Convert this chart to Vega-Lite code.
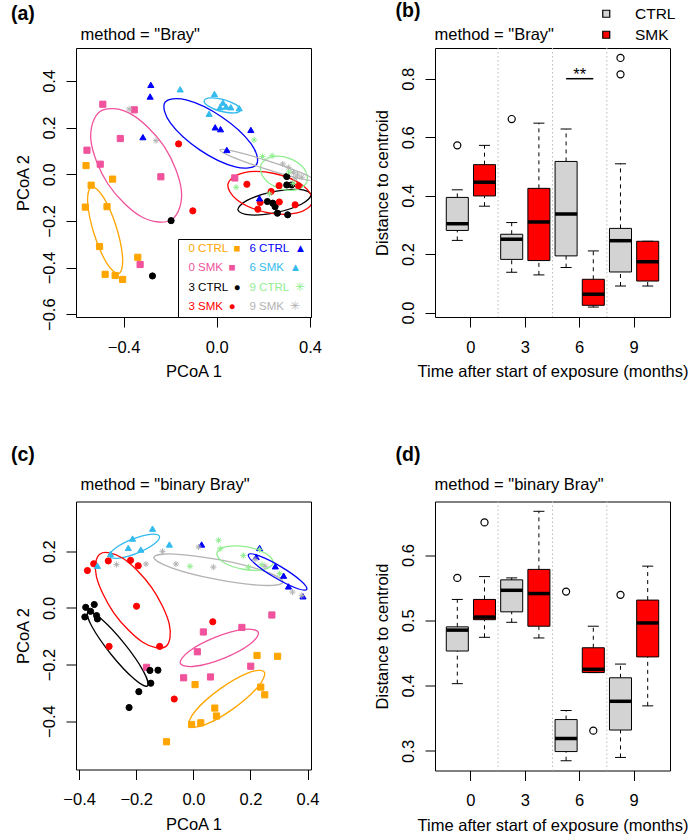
{
  "$schema": "https://vega.github.io/schema/vega-lite/v6.json",
  "background": "white",
  "padding": {"left": 10, "top": 0, "right": 0, "bottom": 3},
  "columns": 2,
  "spacing": {"row": 184.5, "column": 124},
  "bounds": "flush",
  "resolve": {
    "scale": {"color": "independent", "fill": "independent", "stroke": "independent", "shape": "independent"},
    "legend": {"color": "independent", "fill": "independent", "stroke": "independent", "shape": "independent"}
  },
  "datasets": {
    "ptsA": [
      {"g": "0 CTRL", "x": -0.561, "y": 0.037}, {"g": "0 CTRL", "x": -0.447, "y": -0.021}, {"g": "0 CTRL", "x": -0.539, "y": -0.047}, {"g": "0 CTRL", "x": -0.564, "y": -0.141}, {"g": "0 CTRL", "x": -0.471, "y": -0.139}, {"g": "0 CTRL", "x": -0.503, "y": -0.31}, {"g": "0 CTRL", "x": -0.339, "y": -0.356}, {"g": "0 CTRL", "x": -0.479, "y": -0.429}, {"g": "0 CTRL", "x": -0.436, "y": -0.434}, {"g": "0 CTRL", "x": -0.404, "y": -0.451},
      {"g": "0 SMK", "x": -0.489, "y": 0.3}, {"g": "0 SMK", "x": -0.354, "y": 0.276}, {"g": "0 SMK", "x": -0.414, "y": 0.153}, {"g": "0 SMK", "x": -0.557, "y": 0.103}, {"g": "0 SMK", "x": -0.5, "y": 0.043}, {"g": "0 SMK", "x": -0.24, "y": -0.011}, {"g": "0 SMK", "x": 0.077, "y": -0.016}, {"g": "0 SMK", "x": -0.329, "y": -0.387}, {"g": "0 SMK", "x": -0.147, "y": -0.36},
      {"g": "3 CTRL", "x": -0.196, "y": -0.199}, {"g": "3 CTRL", "x": -0.276, "y": -0.436}, {"g": "3 CTRL", "x": 0.217, "y": -0.117}, {"g": "3 CTRL", "x": 0.24, "y": -0.124}, {"g": "3 CTRL", "x": 0.25, "y": -0.139}, {"g": "3 CTRL", "x": 0.26, "y": -0.167}, {"g": "3 CTRL", "x": 0.304, "y": -0.174}, {"g": "3 CTRL", "x": 0.3, "y": -0.046}, {"g": "3 CTRL", "x": 0.3, "y": -0.01}, {"g": "3 CTRL", "x": 0.321, "y": -0.046},
      {"g": "3 SMK", "x": -0.164, "y": 0.13}, {"g": "3 SMK", "x": -0.103, "y": -0.157}, {"g": "3 SMK", "x": 0.129, "y": -0.043}, {"g": "3 SMK", "x": 0.267, "y": -0.049}, {"g": "3 SMK", "x": 0.35, "y": -0.049}, {"g": "3 SMK", "x": 0.186, "y": -0.121}, {"g": "3 SMK", "x": 0.176, "y": -0.15}, {"g": "3 SMK", "x": 0.336, "y": -0.131}, {"g": "3 SMK", "x": 0.268, "y": -0.119}, {"g": "3 SMK", "x": 0.233, "y": -0.074},
      {"g": "6 CTRL", "x": -0.283, "y": 0.383}, {"g": "6 CTRL", "x": -0.286, "y": 0.333}, {"g": "6 CTRL", "x": -0.317, "y": 0.159}, {"g": "6 CTRL", "x": -0.007, "y": 0.201}, {"g": "6 CTRL", "x": 0.016, "y": 0.193}, {"g": "6 CTRL", "x": 0.146, "y": 0.19}, {"g": "6 CTRL", "x": 0.043, "y": 0.104}, {"g": "6 CTRL", "x": 0.183, "y": -0.103},
      {"g": "6 SMK", "x": -0.157, "y": 0.364}, {"g": "6 SMK", "x": -0.01, "y": 0.344}, {"g": "6 SMK", "x": 0.026, "y": 0.307}, {"g": "6 SMK", "x": 0.014, "y": 0.287}, {"g": "6 SMK", "x": 0.04, "y": 0.29}, {"g": "6 SMK", "x": 0.06, "y": 0.287}, {"g": "6 SMK", "x": 0.096, "y": 0.283}, {"g": "6 SMK", "x": -0.033, "y": 0.259},
      {"g": "9 CTRL", "x": 0.16, "y": 0.147}, {"g": "9 CTRL", "x": 0.196, "y": 0.076}, {"g": "9 CTRL", "x": 0.237, "y": 0.079}, {"g": "9 CTRL", "x": 0.083, "y": -0.056}, {"g": "9 CTRL", "x": 0.226, "y": -0.084}, {"g": "9 CTRL", "x": 0.328, "y": -0.039}, {"g": "9 CTRL", "x": 0.31, "y": 0.01},
      {"g": "9 SMK", "x": -0.376, "y": 0.279}, {"g": "9 SMK", "x": -0.261, "y": 0.144}, {"g": "9 SMK", "x": 0.283, "y": 0.044}, {"g": "9 SMK", "x": 0.307, "y": 0.029}, {"g": "9 SMK", "x": 0.329, "y": 0.007}, {"g": "9 SMK", "x": 0.346, "y": -0.003}, {"g": "9 SMK", "x": 0.364, "y": -0.013}, {"g": "9 SMK", "x": 0.336, "y": -0.017}
    ],
    "ellA": [
      {"g": "0 CTRL", "i": 0, "x": -0.4207, "y": -0.426}, {"g": "0 CTRL", "i": 1, "x": -0.404, "y": -0.361}, {"g": "0 CTRL", "i": 2, "x": -0.4313, "y": -0.225}, {"g": "0 CTRL", "i": 3, "x": -0.4865, "y": -0.098}, {"g": "0 CTRL", "i": 4, "x": -0.5373, "y": -0.054}, {"g": "0 CTRL", "i": 5, "x": -0.554, "y": -0.119}, {"g": "0 CTRL", "i": 6, "x": -0.5267, "y": -0.255}, {"g": "0 CTRL", "i": 7, "x": -0.4715, "y": -0.382},
      {"g": "0 SMK", "i": 0, "x": -0.1925, "y": -0.1938}, {"g": "0 SMK", "i": 1, "x": -0.152, "y": -0.0693}, {"g": "0 SMK", "i": 2, "x": -0.2251, "y": 0.118}, {"g": "0 SMK", "i": 3, "x": -0.3691, "y": 0.2585}, {"g": "0 SMK", "i": 4, "x": -0.4995, "y": 0.2698}, {"g": "0 SMK", "i": 5, "x": -0.54, "y": 0.1453}, {"g": "0 SMK", "i": 6, "x": -0.4669, "y": -0.042}, {"g": "0 SMK", "i": 7, "x": -0.3229, "y": -0.1825},
      {"g": "3 CTRL", "i": 0, "x": 0.4035, "y": -0.0867}, {"g": "3 CTRL", "i": 1, "x": 0.351, "y": -0.0653}, {"g": "3 CTRL", "i": 2, "x": 0.2376, "y": -0.076}, {"g": "3 CTRL", "i": 3, "x": 0.1297, "y": -0.1124}, {"g": "3 CTRL", "i": 4, "x": 0.0905, "y": -0.1533}, {"g": "3 CTRL", "i": 5, "x": 0.143, "y": -0.1747}, {"g": "3 CTRL", "i": 6, "x": 0.2564, "y": -0.164}, {"g": "3 CTRL", "i": 7, "x": 0.3643, "y": -0.1276},
      {"g": "3 SMK", "i": 0, "x": 0.4099, "y": -0.1185}, {"g": "3 SMK", "i": 1, "x": 0.3694, "y": -0.0485}, {"g": "3 SMK", "i": 2, "x": 0.2467, "y": 0.0031}, {"g": "3 SMK", "i": 3, "x": 0.1136, "y": 0.006}, {"g": "3 SMK", "i": 4, "x": 0.0481, "y": -0.0415}, {"g": "3 SMK", "i": 5, "x": 0.0886, "y": -0.1115}, {"g": "3 SMK", "i": 6, "x": 0.2113, "y": -0.1631}, {"g": "3 SMK", "i": 7, "x": 0.3444, "y": -0.166},
      {"g": "6 CTRL", "i": 0, "x": 0.1705, "y": 0.0425}, {"g": "6 CTRL", "i": 1, "x": 0.1465, "y": 0.1312}, {"g": "6 CTRL", "i": 2, "x": 0.0215, "y": 0.2455}, {"g": "6 CTRL", "i": 3, "x": -0.1314, "y": 0.3185}, {"g": "6 CTRL", "i": 4, "x": -0.2225, "y": 0.3075}, {"g": "6 CTRL", "i": 5, "x": -0.1985, "y": 0.2188}, {"g": "6 CTRL", "i": 6, "x": -0.0735, "y": 0.1045}, {"g": "6 CTRL", "i": 7, "x": 0.0794, "y": 0.0315},
      {"g": "6 SMK", "i": 0, "x": 0.1003, "y": 0.2743}, {"g": "6 SMK", "i": 1, "x": 0.0824, "y": 0.2981}, {"g": "6 SMK", "i": 2, "x": 0.0297, "y": 0.3201}, {"g": "6 SMK", "i": 3, "x": -0.0269, "y": 0.3274}, {"g": "6 SMK", "i": 4, "x": -0.0543, "y": 0.3157}, {"g": "6 SMK", "i": 5, "x": -0.0364, "y": 0.2919}, {"g": "6 SMK", "i": 6, "x": 0.0163, "y": 0.2699}, {"g": "6 SMK", "i": 7, "x": 0.0729, "y": 0.2626},
      {"g": "9 CTRL", "i": 0, "x": 0.3867, "y": -0.0319}, {"g": "9 CTRL", "i": 1, "x": 0.3743, "y": 0.0238}, {"g": "9 CTRL", "i": 2, "x": 0.3113, "y": 0.0679}, {"g": "9 CTRL", "i": 3, "x": 0.2347, "y": 0.0746}, {"g": "9 CTRL", "i": 4, "x": 0.1893, "y": 0.0399}, {"g": "9 CTRL", "i": 5, "x": 0.2017, "y": -0.0158}, {"g": "9 CTRL", "i": 6, "x": 0.2647, "y": -0.0599}, {"g": "9 CTRL", "i": 7, "x": 0.3413, "y": -0.0666},
      {"g": "9 SMK", "i": 0, "x": 0.4151, "y": -0.0241}, {"g": "9 SMK", "i": 1, "x": 0.3601, "y": 0.0068}, {"g": "9 SMK", "i": 2, "x": 0.2195, "y": 0.0572}, {"g": "9 SMK", "i": 3, "x": 0.0757, "y": 0.0975}, {"g": "9 SMK", "i": 4, "x": 0.0129, "y": 0.1041}, {"g": "9 SMK", "i": 5, "x": 0.0679, "y": 0.0732}, {"g": "9 SMK", "i": 6, "x": 0.2085, "y": 0.0229}, {"g": "9 SMK", "i": 7, "x": 0.3523, "y": -0.0175}
    ],
    "ptsC": [
      {"g": "0 CTRL", "x": 0.223, "y": -0.168}, {"g": "0 CTRL", "x": 0.295, "y": -0.171}, {"g": "0 CTRL", "x": 0.006, "y": -0.271}, {"g": "0 CTRL", "x": 0.236, "y": -0.28}, {"g": "0 CTRL", "x": 0.25, "y": -0.307}, {"g": "0 CTRL", "x": 0.075, "y": -0.354}, {"g": "0 CTRL", "x": 0.081, "y": -0.382}, {"g": "0 CTRL", "x": -0.006, "y": -0.412}, {"g": "0 CTRL", "x": 0.026, "y": -0.406}, {"g": "0 CTRL", "x": -0.094, "y": -0.473},
      {"g": "0 SMK", "x": 0.275, "y": -0.025}, {"g": "0 SMK", "x": 0.17, "y": -0.069}, {"g": "0 SMK", "x": 0.035, "y": -0.085}, {"g": "0 SMK", "x": 0.014, "y": -0.155}, {"g": "0 SMK", "x": 0.201, "y": -0.206}, {"g": "0 SMK", "x": 0.06, "y": -0.244}, {"g": "0 SMK", "x": -0.034, "y": -0.247}, {"g": "0 SMK", "x": -0.164, "y": -0.21},
      {"g": "3 CTRL", "x": -0.377, "y": 0.002}, {"g": "3 CTRL", "x": -0.347, "y": 0.012}, {"g": "3 CTRL", "x": -0.36, "y": -0.012}, {"g": "3 CTRL", "x": -0.38, "y": -0.032}, {"g": "3 CTRL", "x": -0.339, "y": -0.027}, {"g": "3 CTRL", "x": -0.336, "y": -0.039}, {"g": "3 CTRL", "x": -0.152, "y": -0.221}, {"g": "3 CTRL", "x": -0.124, "y": -0.22}, {"g": "3 CTRL", "x": -0.149, "y": -0.266}, {"g": "3 CTRL", "x": -0.191, "y": -0.296}, {"g": "3 CTRL", "x": -0.225, "y": -0.352},
      {"g": "3 SMK", "x": -0.371, "y": 0.132}, {"g": "3 SMK", "x": -0.349, "y": 0.156}, {"g": "3 SMK", "x": -0.298, "y": 0.166}, {"g": "3 SMK", "x": -0.22, "y": 0.168}, {"g": "3 SMK", "x": -0.193, "y": 0.149}, {"g": "3 SMK", "x": -0.199, "y": 0.006}, {"g": "3 SMK", "x": 0.068, "y": -0.049}, {"g": "3 SMK", "x": -0.295, "y": -0.136}, {"g": "3 SMK", "x": -0.118, "y": -0.136}, {"g": "3 SMK", "x": -0.067, "y": -0.322},
      {"g": "6 CTRL", "x": 0.029, "y": 0.224}, {"g": "6 CTRL", "x": 0.232, "y": 0.212}, {"g": "6 CTRL", "x": 0.287, "y": 0.147}, {"g": "6 CTRL", "x": 0.316, "y": 0.114}, {"g": "6 CTRL", "x": 0.333, "y": 0.076}, {"g": "6 CTRL", "x": 0.384, "y": 0.041}, {"g": "6 CTRL", "x": 0.22, "y": 0.18},
      {"g": "6 SMK", "x": -0.143, "y": 0.28}, {"g": "6 SMK", "x": -0.213, "y": 0.245}, {"g": "6 SMK", "x": -0.228, "y": 0.212}, {"g": "6 SMK", "x": -0.184, "y": 0.206}, {"g": "6 SMK", "x": -0.084, "y": 0.224}, {"g": "6 SMK", "x": -0.29, "y": 0.191}, {"g": "6 SMK", "x": -0.336, "y": 0.149},
      {"g": "9 CTRL", "x": 0.088, "y": 0.239}, {"g": "9 CTRL", "x": 0.094, "y": 0.209}, {"g": "9 CTRL", "x": -0.012, "y": 0.147}, {"g": "9 CTRL", "x": 0.175, "y": 0.185}, {"g": "9 CTRL", "x": 0.193, "y": 0.144}, {"g": "9 CTRL", "x": 0.232, "y": 0.206}, {"g": "9 CTRL", "x": 0.24, "y": 0.153}, {"g": "9 CTRL", "x": 0.302, "y": 0.121},
      {"g": "9 SMK", "x": -0.269, "y": 0.153}, {"g": "9 SMK", "x": -0.166, "y": 0.155}, {"g": "9 SMK", "x": -0.108, "y": 0.2}, {"g": "9 SMK", "x": -0.061, "y": 0.155}, {"g": "9 SMK", "x": 0.018, "y": 0.215}, {"g": "9 SMK", "x": 0.07, "y": 0.144}, {"g": "9 SMK", "x": 0.216, "y": 0.171}, {"g": "9 SMK", "x": 0.251, "y": 0.147}, {"g": "9 SMK", "x": 0.347, "y": 0.056}, {"g": "9 SMK", "x": 0.38, "y": 0.044}
    ],
    "ellC": [
      {"g": "6 SMK", "i": 0, "x": -0.1189, "y": 0.2533}, {"g": "6 SMK", "i": 1, "x": -0.1513, "y": 0.26}, {"g": "6 SMK", "i": 2, "x": -0.2158, "y": 0.2421}, {"g": "6 SMK", "i": 3, "x": -0.2745, "y": 0.2101}, {"g": "6 SMK", "i": 4, "x": -0.2931, "y": 0.1827}, {"g": "6 SMK", "i": 5, "x": -0.2607, "y": 0.176}, {"g": "6 SMK", "i": 6, "x": -0.1963, "y": 0.1939}, {"g": "6 SMK", "i": 7, "x": -0.1375, "y": 0.2259},
      {"g": "3 SMK", "i": 0, "x": -0.0972, "y": -0.1368}, {"g": "3 SMK", "i": 1, "x": -0.0845, "y": -0.0564}, {"g": "3 SMK", "i": 2, "x": -0.1465, "y": 0.0729}, {"g": "3 SMK", "i": 3, "x": -0.2469, "y": 0.1753}, {"g": "3 SMK", "i": 4, "x": -0.3268, "y": 0.1908}, {"g": "3 SMK", "i": 5, "x": -0.3395, "y": 0.1104}, {"g": "3 SMK", "i": 6, "x": -0.2775, "y": -0.0189}, {"g": "3 SMK", "i": 7, "x": -0.1771, "y": -0.1213},
      {"g": "3 CTRL", "i": 0, "x": -0.1608, "y": -0.2756}, {"g": "3 CTRL", "i": 1, "x": -0.1747, "y": -0.2241}, {"g": "3 CTRL", "i": 2, "x": -0.2415, "y": -0.1263}, {"g": "3 CTRL", "i": 3, "x": -0.3221, "y": -0.0394}, {"g": "3 CTRL", "i": 4, "x": -0.3692, "y": -0.0144}, {"g": "3 CTRL", "i": 5, "x": -0.3553, "y": -0.0659}, {"g": "3 CTRL", "i": 6, "x": -0.2885, "y": -0.1637}, {"g": "3 CTRL", "i": 7, "x": -0.2079, "y": -0.2506},
      {"g": "0 SMK", "i": 0, "x": 0.2273, "y": -0.0859}, {"g": "0 SMK", "i": 1, "x": 0.1768, "y": -0.0758}, {"g": "0 SMK", "i": 2, "x": 0.076, "y": -0.1039}, {"g": "0 SMK", "i": 3, "x": -0.016, "y": -0.1537}, {"g": "0 SMK", "i": 4, "x": -0.0453, "y": -0.1961}, {"g": "0 SMK", "i": 5, "x": 0.0052, "y": -0.2062}, {"g": "0 SMK", "i": 6, "x": 0.106, "y": -0.1781}, {"g": "0 SMK", "i": 7, "x": 0.198, "y": -0.1283},
      {"g": "0 CTRL", "i": 0, "x": 0.2481, "y": -0.2257}, {"g": "0 CTRL", "i": 1, "x": 0.1922, "y": -0.2296}, {"g": "0 CTRL", "i": 2, "x": 0.0923, "y": -0.287}, {"g": "0 CTRL", "i": 3, "x": 0.0068, "y": -0.3643}, {"g": "0 CTRL", "i": 4, "x": -0.0141, "y": -0.4163}, {"g": "0 CTRL", "i": 5, "x": 0.0418, "y": -0.4124}, {"g": "0 CTRL", "i": 6, "x": 0.1417, "y": -0.355}, {"g": "0 CTRL", "i": 7, "x": 0.2272, "y": -0.2777},
      {"g": "9 SMK", "i": 0, "x": 0.3139, "y": 0.0911}, {"g": "9 SMK", "i": 1, "x": 0.2525, "y": 0.1283}, {"g": "9 SMK", "i": 2, "x": 0.0947, "y": 0.1694}, {"g": "9 SMK", "i": 3, "x": -0.067, "y": 0.1904}, {"g": "9 SMK", "i": 4, "x": -0.1379, "y": 0.1789}, {"g": "9 SMK", "i": 5, "x": -0.0765, "y": 0.1417}, {"g": "9 SMK", "i": 6, "x": 0.0813, "y": 0.1006}, {"g": "9 SMK", "i": 7, "x": 0.243, "y": 0.0796},
      {"g": "9 CTRL", "i": 0, "x": 0.2795, "y": 0.1586}, {"g": "9 CTRL", "i": 1, "x": 0.2556, "y": 0.1916}, {"g": "9 CTRL", "i": 2, "x": 0.188, "y": 0.2154}, {"g": "9 CTRL", "i": 3, "x": 0.1163, "y": 0.2162}, {"g": "9 CTRL", "i": 4, "x": 0.0825, "y": 0.1934}, {"g": "9 CTRL", "i": 5, "x": 0.1064, "y": 0.1604}, {"g": "9 CTRL", "i": 6, "x": 0.174, "y": 0.1366}, {"g": "9 CTRL", "i": 7, "x": 0.2457, "y": 0.1358},
      {"g": "6 CTRL", "i": 0, "x": 0.397, "y": 0.0657}, {"g": "6 CTRL", "i": 1, "x": 0.3751, "y": 0.097}, {"g": "6 CTRL", "i": 2, "x": 0.3063, "y": 0.1459}, {"g": "6 CTRL", "i": 3, "x": 0.2309, "y": 0.1837}, {"g": "6 CTRL", "i": 4, "x": 0.193, "y": 0.1883}, {"g": "6 CTRL", "i": 5, "x": 0.2149, "y": 0.157}, {"g": "6 CTRL", "i": 6, "x": 0.2837, "y": 0.1081}, {"g": "6 CTRL", "i": 7, "x": 0.3591, "y": 0.0703}
    ],
    "boxB": [
      {"time": 0, "trt": "CTRL", "lo": 0.247, "q1": 0.281, "med": 0.304, "q3": 0.394, "hi": 0.42},
      {"time": 0, "trt": "SMK", "lo": 0.364, "q1": 0.399, "med": 0.446, "q3": 0.506, "hi": 0.572},
      {"time": 3, "trt": "CTRL", "lo": 0.138, "q1": 0.182, "med": 0.251, "q3": 0.268, "hi": 0.308},
      {"time": 3, "trt": "SMK", "lo": 0.129, "q1": 0.178, "med": 0.31, "q3": 0.425, "hi": 0.648},
      {"time": 6, "trt": "CTRL", "lo": 0.154, "q1": 0.194, "med": 0.337, "q3": 0.517, "hi": 0.628},
      {"time": 6, "trt": "SMK", "lo": 0.019, "q1": 0.025, "med": 0.063, "q3": 0.114, "hi": 0.211},
      {"time": 9, "trt": "CTRL", "lo": 0.091, "q1": 0.139, "med": 0.246, "q3": 0.288, "hi": 0.509},
      {"time": 9, "trt": "SMK", "lo": 0.091, "q1": 0.108, "med": 0.174, "q3": 0.244, "hi": 0.244}
    ],
    "outB": [
      {"time": 0, "trt": "CTRL", "v": 0.572},
      {"time": 3, "trt": "CTRL", "v": 0.662},
      {"time": 9, "trt": "CTRL", "v": 0.871},
      {"time": 9, "trt": "CTRL", "v": 0.815}
    ],
    "sigB": [
      {"time": 6, "trt": "CTRL", "v": 0.8, "label": "**"},
      {"time": 6, "trt": "SMK", "v": 0.8, "label": "**"}
    ],
    "boxD": [
      {"time": 0, "trt": "CTRL", "lo": 0.403, "q1": 0.453, "med": 0.485, "q3": 0.49, "hi": 0.532},
      {"time": 0, "trt": "SMK", "lo": 0.474, "q1": 0.501, "med": 0.505, "q3": 0.532, "hi": 0.567},
      {"time": 3, "trt": "CTRL", "lo": 0.497, "q1": 0.513, "med": 0.546, "q3": 0.562, "hi": 0.565},
      {"time": 3, "trt": "SMK", "lo": 0.473, "q1": 0.491, "med": 0.541, "q3": 0.578, "hi": 0.667},
      {"time": 6, "trt": "CTRL", "lo": 0.285, "q1": 0.299, "med": 0.319, "q3": 0.348, "hi": 0.362},
      {"time": 6, "trt": "SMK", "lo": 0.42, "q1": 0.42, "med": 0.425, "q3": 0.458, "hi": 0.491},
      {"time": 9, "trt": "CTRL", "lo": 0.29, "q1": 0.332, "med": 0.376, "q3": 0.412, "hi": 0.433},
      {"time": 9, "trt": "SMK", "lo": 0.369, "q1": 0.444, "med": 0.496, "q3": 0.531, "hi": 0.583}
    ],
    "outD": [
      {"time": 0, "trt": "CTRL", "v": 0.565},
      {"time": 0, "trt": "SMK", "v": 0.65},
      {"time": 6, "trt": "CTRL", "v": 0.544},
      {"time": 6, "trt": "SMK", "v": 0.331},
      {"time": 9, "trt": "CTRL", "v": 0.539}
    ]
  },
  "concat": [
    {
      "width": 235, "height": 269,
      "title": {"text": "(a)", "dx": -4, "offset": 2},
      "resolve": {"axis": {"x": "independent"}},
      "layer": [
        {
          "data": {"name": "ellA"},
          "mark": {"type": "line", "interpolate": "cardinal-closed", "clip": true, "strokeWidth": 1.3},
          "encoding": {
            "x": {"field": "x", "type": "quantitative", "title": "method = \"Bray\"", "scale": {"domain": [-0.604, 0.404], "nice": false, "zero": false}, "axis": {"orient": "top", "labels": false, "ticks": false, "titleAnchor": "start", "titleAlign": "left", "titleX": 4, "titleBaseline": "alphabetic", "titlePadding": 9}},
            "y": {"field": "y", "type": "quantitative", "title": "PCoA 2", "scale": {"domain": [-0.612, 0.541], "nice": false, "zero": false}},
            "color": {"field": "g", "type": "nominal", "scale": {"domain": ["9 SMK", "9 CTRL", "6 SMK", "6 CTRL", "3 SMK", "3 CTRL", "0 SMK", "0 CTRL"], "range": ["#B3B3B3", "#90EE90", "#33BBEE", "#0000FF", "#FF0000", "#000000", "#F0529C", "#FFA500"]}, "legend": null},
            "order": {"field": "i", "type": "quantitative"}
          }
        },
        {
          "data": {"name": "ptsA"},
          "mark": {"type": "point", "filled": true, "opacity": 1, "strokeWidth": 1, "size": 38},
          "encoding": {
            "x": {"field": "x", "type": "quantitative", "title": "PCoA 1", "axis": {"orient": "bottom", "values": [-0.4, 0, 0.4], "format": ".1f"}},
            "y": {"field": "y", "type": "quantitative", "title": "PCoA 2", "axis": {"values": [-0.6, -0.4, -0.2, 0, 0.2, 0.4], "format": ".1f"}},
            "fill": {"field": "g", "type": "nominal", "scale": {"domain": ["0 CTRL", "0 SMK", "3 CTRL", "3 SMK", "6 CTRL", "6 SMK", "9 CTRL", "9 SMK"], "range": ["#FFA500", "#F0529C", "#000000", "#FF0000", "#0000FF", "#33BBEE", "#90EE90", "#B3B3B3"]},
              "legend": {"title": null, "orient": "bottom-right", "offset": 0, "columns": 2, "strokeColor": "black", "fillColor": "white", "padding": 4, "cornerRadius": 0, "labelFontSize": 11.5, "rowPadding": 6.5, "columnPadding": 2, "symbolSize": 0, "symbolOpacity": 0, "symbolStrokeWidth": 0, "labelOffset": -5,
                "labelExpr": "datum.label + '\u2002' + (datum.label[0] == '0' ? '■' : datum.label[0] == '3' ? '●' : datum.label[0] == '6' ? '▲' : '✳')",
                "labelColor": {"expr": "datum.value == '0 CTRL' ? '#FFA500' : datum.value == '6 CTRL' ? '#0000FF' : datum.value == '0 SMK' ? '#F0529C' : datum.value == '6 SMK' ? '#33BBEE' : datum.value == '9 CTRL' ? '#90EE90' : datum.value == '3 SMK' ? '#FF0000' : datum.value == '9 SMK' ? '#B3B3B3' : '#000000'"}}},
            "stroke": {"field": "g", "type": "nominal", "scale": {"domain": ["0 CTRL", "0 SMK", "3 CTRL", "3 SMK", "6 CTRL", "6 SMK", "9 CTRL", "9 SMK"], "range": ["#FFA500", "#F0529C", "#000000", "#FF0000", "#0000FF", "#33BBEE", "#90EE90", "#B3B3B3"]}},
            "shape": {"field": "g", "type": "nominal", "scale": {"domain": ["0 CTRL", "0 SMK", "3 CTRL", "3 SMK", "6 CTRL", "6 SMK", "9 CTRL", "9 SMK"], "range": ["square", "square", "circle", "circle", "triangle-up", "triangle-up", "M-1,0L1,0M0,-1L0,1M-0.7,-0.7L0.7,0.7M-0.7,0.7L0.7,-0.7", "M-1,0L1,0M0,-1L0,1M-0.7,-0.7L0.7,0.7M-0.7,0.7L0.7,-0.7"]}}
          }
        }
      ]
    },
    {
      "width": 235, "height": 269,
      "title": {"text": "(b)", "dx": 21.5, "offset": -15},
      "resolve": {"axis": {"x": "independent"}},
      "layer": [
        {
          "data": {"name": "boxB"},
          "transform": [{"filter": "datum.trt == 'CTRL' && datum.time > 0"}],
          "mark": {"type": "rule", "color": "#BBBBBB", "strokeDash": [1.5, 2.5], "strokeWidth": 1},
          "encoding": {
            "x": {"field": "time", "type": "ordinal", "bandPosition": 0, "axis": null}
          }
        },
        {
          "data": {"name": "boxB"},
          "mark": {"type": "rule", "color": "black", "strokeDash": [4, 4], "strokeWidth": 1},
          "encoding": {
            "x": {"field": "time", "type": "ordinal", "axis": null},
            "xOffset": {"field": "trt", "type": "nominal"},
            "y": {"field": "lo", "type": "quantitative", "title": "Distance to centroid"},
            "y2": {"field": "q1"}
          }
        },
        {
          "data": {"name": "boxB"},
          "mark": {"type": "rule", "color": "black", "strokeDash": [4, 4], "strokeWidth": 1},
          "encoding": {
            "x": {"field": "time", "type": "ordinal", "axis": null},
            "xOffset": {"field": "trt", "type": "nominal"},
            "y": {"field": "q3", "type": "quantitative", "title": "Distance to centroid"},
            "y2": {"field": "hi"}
          }
        },
        {
          "data": {"name": "boxB"},
          "mark": {"type": "tick", "color": "black", "size": 11, "thickness": 1, "opacity": 1},
          "encoding": {
            "x": {"field": "time", "type": "ordinal", "axis": null},
            "xOffset": {"field": "trt", "type": "nominal"},
            "y": {"field": "lo", "type": "quantitative", "title": "Distance to centroid"}
          }
        },
        {
          "data": {"name": "boxB"},
          "mark": {"type": "tick", "color": "black", "size": 11, "thickness": 1, "opacity": 1},
          "encoding": {
            "x": {"field": "time", "type": "ordinal", "axis": null},
            "xOffset": {"field": "trt", "type": "nominal"},
            "y": {"field": "hi", "type": "quantitative", "title": "Distance to centroid"}
          }
        },
        {
          "data": {"name": "boxB"},
          "mark": {"type": "bar", "stroke": "black", "strokeWidth": 1},
          "encoding": {
            "x": {"field": "time", "type": "ordinal", "title": "Time after start of exposure (months)", "scale": {"domain": [0, 3, 6, 9], "paddingInner": 0, "paddingOuter": 0.16}, "axis": {"orient": "bottom", "labelAngle": 0}},
            "xOffset": {"field": "trt", "type": "nominal", "scale": {"domain": ["CTRL", "SMK"], "paddingInner": 0.19, "paddingOuter": 0.095}},
            "y": {"field": "q1", "type": "quantitative", "title": "Distance to centroid", "scale": {"domain": [-0.015, 0.905], "nice": false, "zero": false}, "axis": {"values": [0, 0.2, 0.4, 0.6, 0.8], "format": ".1f"}},
            "y2": {"field": "q3"},
            "fill": {"field": "trt", "type": "nominal", "scale": {"domain": ["CTRL", "SMK"], "range": ["#D3D3D3", "#FF0000"]},
              "legend": {"title": null, "orient": "none", "legendX": 163.5, "legendY": -42, "symbolType": "square", "symbolSize": 49, "symbolStrokeColor": "black", "symbolStrokeWidth": 1.2, "labelFontSize": 15.5, "labelOffset": 21, "rowPadding": 4, "padding": 0}}
          }
        },
        {
          "data": {"name": "boxB"},
          "mark": {"type": "tick", "color": "black", "size": 22, "thickness": 3.5, "opacity": 1},
          "encoding": {
            "x": {"field": "time", "type": "ordinal", "title": "method = \"Bray\"", "axis": {"orient": "top", "labels": false, "ticks": false, "titleAnchor": "start", "titleAlign": "left", "titleX": -1, "titleBaseline": "alphabetic", "titlePadding": 9}},
            "xOffset": {"field": "trt", "type": "nominal"},
            "y": {"field": "med", "type": "quantitative", "title": "Distance to centroid"}
          }
        },
        {
          "data": {"name": "outB"},
          "mark": {"type": "point", "shape": "circle", "filled": false, "color": "black", "size": 50, "strokeWidth": 1.2, "opacity": 1},
          "encoding": {
            "x": {"field": "time", "type": "ordinal", "axis": null},
            "xOffset": {"field": "trt", "type": "nominal"},
            "y": {"field": "v", "type": "quantitative", "title": "Distance to centroid"}
          }
        },
        {
          "data": {"name": "sigB"},
          "mark": {"type": "line", "color": "black", "strokeWidth": 1.5},
          "encoding": {
            "x": {"field": "time", "type": "ordinal", "axis": null},
            "xOffset": {"field": "trt", "type": "nominal"},
            "y": {"field": "v", "type": "quantitative", "title": "Distance to centroid"}
          }
        },
        {
          "data": {"name": "sigB"},
          "transform": [{"filter": "datum.trt == 'CTRL'"}],
          "mark": {"type": "text", "fontSize": 16.5, "baseline": "alphabetic", "dy": 1, "color": "black"},
          "encoding": {
            "x": {"field": "time", "type": "ordinal", "axis": null},
            "y": {"field": "v", "type": "quantitative", "title": "Distance to centroid"},
            "text": {"field": "label"}
          }
        }
      ]
    },
    {
      "width": 235, "height": 268,
      "title": {"text": "(c)", "dx": -4, "offset": 11},
      "resolve": {"axis": {"x": "independent"}},
      "layer": [
        {
          "data": {"name": "ellC"},
          "mark": {"type": "line", "interpolate": "cardinal-closed", "clip": true, "strokeWidth": 1.3},
          "encoding": {
            "x": {"field": "x", "type": "quantitative", "title": "method = \"binary Bray\"", "scale": {"domain": [-0.411, 0.412], "nice": false, "zero": false}, "axis": {"orient": "top", "labels": false, "ticks": false, "titleAnchor": "start", "titleAlign": "left", "titleX": 4, "titleBaseline": "alphabetic", "titlePadding": 12}},
            "y": {"field": "y", "type": "quantitative", "title": "PCoA 2", "scale": {"domain": [-0.571, 0.376], "nice": false, "zero": false}},
            "color": {"field": "g", "type": "nominal", "scale": {"domain": ["9 SMK", "9 CTRL", "6 SMK", "6 CTRL", "3 SMK", "3 CTRL", "0 SMK", "0 CTRL"], "range": ["#B3B3B3", "#90EE90", "#33BBEE", "#0000FF", "#FF0000", "#000000", "#F0529C", "#FFA500"]}, "legend": null},
            "order": {"field": "i", "type": "quantitative"}
          }
        },
        {
          "data": {"name": "ptsC"},
          "mark": {"type": "point", "filled": true, "opacity": 1, "strokeWidth": 1, "size": 38},
          "encoding": {
            "x": {"field": "x", "type": "quantitative", "title": "PCoA 1", "axis": {"orient": "bottom", "values": [-0.4, -0.2, 0, 0.2, 0.4], "format": ".1f"}},
            "y": {"field": "y", "type": "quantitative", "title": "PCoA 2", "axis": {"values": [-0.4, -0.2, 0, 0.2], "format": ".1f"}},
            "fill": {"field": "g", "type": "nominal", "scale": {"domain": ["0 CTRL", "0 SMK", "3 CTRL", "3 SMK", "6 CTRL", "6 SMK", "9 CTRL", "9 SMK"], "range": ["#FFA500", "#F0529C", "#000000", "#FF0000", "#0000FF", "#33BBEE", "#90EE90", "#B3B3B3"]}, "legend": null},
            "stroke": {"field": "g", "type": "nominal", "scale": {"domain": ["0 CTRL", "0 SMK", "3 CTRL", "3 SMK", "6 CTRL", "6 SMK", "9 CTRL", "9 SMK"], "range": ["#FFA500", "#F0529C", "#000000", "#FF0000", "#0000FF", "#33BBEE", "#90EE90", "#B3B3B3"]}, "legend": null},
            "shape": {"field": "g", "type": "nominal", "scale": {"domain": ["0 CTRL", "0 SMK", "3 CTRL", "3 SMK", "6 CTRL", "6 SMK", "9 CTRL", "9 SMK"], "range": ["square", "square", "circle", "circle", "triangle-up", "triangle-up", "M-1,0L1,0M0,-1L0,1M-0.7,-0.7L0.7,0.7M-0.7,0.7L0.7,-0.7", "M-1,0L1,0M0,-1L0,1M-0.7,-0.7L0.7,0.7M-0.7,0.7L0.7,-0.7"]}, "legend": null}
          }
        }
      ]
    },
    {
      "width": 235, "height": 269,
      "title": {"text": "(d)", "dx": 21.5, "offset": 11},
      "resolve": {"axis": {"x": "independent"}},
      "layer": [
        {
          "data": {"name": "boxD"},
          "transform": [{"filter": "datum.trt == 'CTRL' && datum.time > 0"}],
          "mark": {"type": "rule", "color": "#BBBBBB", "strokeDash": [1.5, 2.5], "strokeWidth": 1},
          "encoding": {
            "x": {"field": "time", "type": "ordinal", "bandPosition": 0, "axis": null}
          }
        },
        {
          "data": {"name": "boxD"},
          "mark": {"type": "rule", "color": "black", "strokeDash": [4, 4], "strokeWidth": 1},
          "encoding": {
            "x": {"field": "time", "type": "ordinal", "axis": null},
            "xOffset": {"field": "trt", "type": "nominal"},
            "y": {"field": "lo", "type": "quantitative", "title": "Distance to centroid"},
            "y2": {"field": "q1"}
          }
        },
        {
          "data": {"name": "boxD"},
          "mark": {"type": "rule", "color": "black", "strokeDash": [4, 4], "strokeWidth": 1},
          "encoding": {
            "x": {"field": "time", "type": "ordinal", "axis": null},
            "xOffset": {"field": "trt", "type": "nominal"},
            "y": {"field": "q3", "type": "quantitative", "title": "Distance to centroid"},
            "y2": {"field": "hi"}
          }
        },
        {
          "data": {"name": "boxD"},
          "mark": {"type": "tick", "color": "black", "size": 11, "thickness": 1, "opacity": 1},
          "encoding": {
            "x": {"field": "time", "type": "ordinal", "axis": null},
            "xOffset": {"field": "trt", "type": "nominal"},
            "y": {"field": "lo", "type": "quantitative", "title": "Distance to centroid"}
          }
        },
        {
          "data": {"name": "boxD"},
          "mark": {"type": "tick", "color": "black", "size": 11, "thickness": 1, "opacity": 1},
          "encoding": {
            "x": {"field": "time", "type": "ordinal", "axis": null},
            "xOffset": {"field": "trt", "type": "nominal"},
            "y": {"field": "hi", "type": "quantitative", "title": "Distance to centroid"}
          }
        },
        {
          "data": {"name": "boxD"},
          "mark": {"type": "bar", "stroke": "black", "strokeWidth": 1},
          "encoding": {
            "x": {"field": "time", "type": "ordinal", "title": "Time after start of exposure (months)", "scale": {"domain": [0, 3, 6, 9], "paddingInner": 0, "paddingOuter": 0.16}, "axis": {"orient": "bottom", "labelAngle": 0}},
            "xOffset": {"field": "trt", "type": "nominal", "scale": {"domain": ["CTRL", "SMK"], "paddingInner": 0.19, "paddingOuter": 0.095}},
            "y": {"field": "q1", "type": "quantitative", "title": "Distance to centroid", "scale": {"domain": [0.27, 0.682], "nice": false, "zero": false}, "axis": {"values": [0.3, 0.4, 0.5, 0.6], "format": ".1f"}},
            "y2": {"field": "q3"},
            "fill": {"field": "trt", "type": "nominal", "scale": {"domain": ["CTRL", "SMK"], "range": ["#D3D3D3", "#FF0000"]}, "legend": null}
          }
        },
        {
          "data": {"name": "boxD"},
          "mark": {"type": "tick", "color": "black", "size": 22, "thickness": 3.5, "opacity": 1},
          "encoding": {
            "x": {"field": "time", "type": "ordinal", "title": "method = \"binary Bray\"", "axis": {"orient": "top", "labels": false, "ticks": false, "titleAnchor": "start", "titleAlign": "left", "titleX": -1, "titleBaseline": "alphabetic", "titlePadding": 12}},
            "xOffset": {"field": "trt", "type": "nominal"},
            "y": {"field": "med", "type": "quantitative", "title": "Distance to centroid"}
          }
        },
        {
          "data": {"name": "outD"},
          "mark": {"type": "point", "shape": "circle", "filled": false, "color": "black", "size": 50, "strokeWidth": 1.2, "opacity": 1},
          "encoding": {
            "x": {"field": "time", "type": "ordinal", "axis": null},
            "xOffset": {"field": "trt", "type": "nominal"},
            "y": {"field": "v", "type": "quantitative", "title": "Distance to centroid"}
          }
        }
      ]
    }
  ],
  "config": {
    "font": "Liberation Sans",
    "view": {"stroke": "black", "strokeWidth": 1},
    "axis": {"domain": false, "grid": false, "tickColor": "black", "tickSize": 10, "tickWidth": 1, "labelFontSize": 16.5, "labelColor": "black", "labelFont": "Liberation Sans", "titleFont": "Liberation Sans", "titleFontSize": 16.5, "titleFontWeight": "normal", "titleColor": "black", "labelFlush": false, "labelOverlap": false},
    "axisLeft": {"labelAngle": -90, "labelAlign": "center", "labelBaseline": "alphabetic", "labelPadding": 12, "titlePadding": 10},
    "axisBottom": {"labelPadding": 12, "titlePadding": 8},
    "title": {"font": "Liberation Sans", "fontSize": 19.5, "fontWeight": "bold", "color": "black", "anchor": "start"},
    "legend": {"labelFont": "Liberation Sans"}
  }
}
